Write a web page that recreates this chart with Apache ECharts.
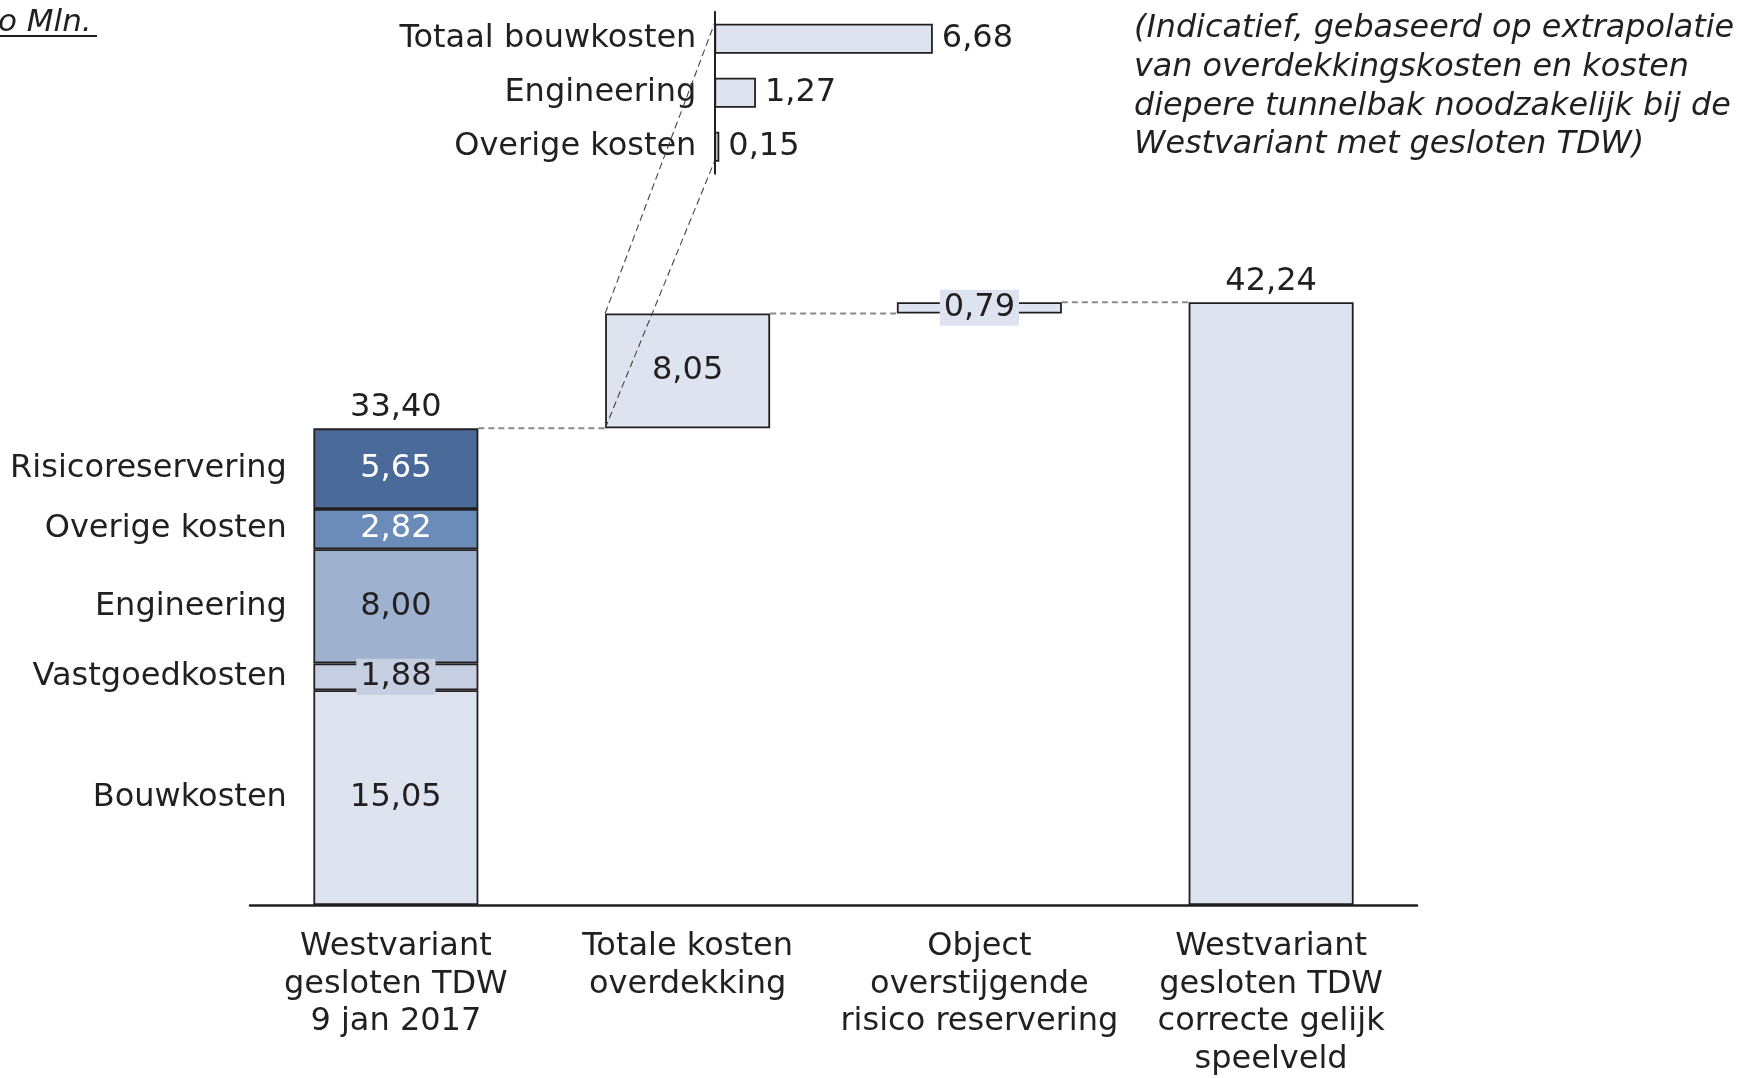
<!DOCTYPE html>
<html>
<head>
<meta charset="utf-8">
<script src="https://cdn.jsdelivr.net/npm/echarts@6/dist/echarts.min.js"></script>
<style>
html,body{margin:0;padding:0;background:#fff;}
#chart{width:1746px;height:1078px;}
</style>
</head>
<body>
<div id="chart"></div>
<script>
// ---- data ----
const categories = [
  'Westvariant\ngesloten TDW\n9 jan 2017',
  'Totale kosten\noverdekking',
  'Object\noverstijgende\nrisico reservering',
  'Westvariant\ngesloten TDW\ncorrecte gelijk\nspeelveld'
];
const segmentNames = ['Bouwkosten', 'Vastgoedkosten', 'Engineering', 'Overige kosten', 'Risicoreservering'];
const segmentValues = [15.05, 1.88, 8.00, 2.82, 5.65];
const segmentColors = ['#dde4ef', '#c5cfe1', '#9eb1ce', '#6b8cb8', '#4a6a9a'];
const segmentLabelColors = ['#231f20', '#231f20', '#231f20', '#ffffff', '#ffffff'];
const startTotal = 33.40;
const deltaValues = [8.05, 0.79];
const endTotal = 42.24;
const insetCategories = ['Totaal bouwkosten', 'Engineering', 'Overige kosten'];
const insetValues = [6.68, 1.27, 0.15];
const noteLines = [
  '(Indicatief, gebaseerd op extrapolatie',
  'van overdekkingskosten en kosten',
  'diepere tunnelbak noodzakelijk bij de',
  'Westvariant met gesloten TDW)'
];
const unitLabel = 'o Mln.';

// ---- helpers ----
const FONT = 'DejaVu Sans';
const FS = 32;
const TXT = '#231f20';
const fmt = v => Number(v).toFixed(2).replace('.', ',');
const BW = 165;
const BORDER = 1.8;

const base = [0, startTotal, startTotal + deltaValues[0], 0];
const deltaSeriesData = ['-', deltaValues[0], deltaValues[1], '-'];
const totalSeriesData = ['-', '-', '-', endTotal];

let cum = 0;
const nameMid = segmentValues.map(v => { const m = cum + v / 2; cum += v; return m; });

const series = [];
series.push({
  type: 'bar', stack: 'w', barWidth: BW, data: base,
  itemStyle: { color: 'transparent', borderWidth: 0 }, silent: true
});
segmentValues.forEach((v, i) => {
  const lbl = { show: true, position: 'inside', fontSize: FS, fontFamily: FONT, color: segmentLabelColors[i], formatter: p => fmt(p.value) };
  if (i === 1) { lbl.backgroundColor = segmentColors[1]; lbl.padding = [3, 4, 1, 4]; }
  series.push({
    type: 'bar', stack: 'w', barWidth: BW, name: segmentNames[i],
    data: [v, '-', '-', '-'],
    itemStyle: { color: segmentColors[i], borderColor: '#231f20', borderWidth: BORDER },
    label: lbl
  });
});
series.push({
  type: 'bar', stack: 'w', barWidth: BW,
  data: deltaSeriesData,
  itemStyle: { color: '#dde4ef', borderColor: '#231f20', borderWidth: BORDER },
  label: { show: true, position: 'inside', fontSize: FS, fontFamily: FONT, color: TXT,
    backgroundColor: '#dde4ef', padding: [3, 4, 1, 4], formatter: p => fmt(p.value) }
});
series.push({
  type: 'bar', stack: 'w', barWidth: BW,
  data: totalSeriesData,
  itemStyle: { color: '#dde4ef', borderColor: '#231f20', borderWidth: BORDER }
});
// totals above bars
series.push({
  type: 'scatter', symbolSize: 0, silent: true,
  itemStyle: { opacity: 1 },
  data: [[0, startTotal], [3, endTotal]],
  label: { show: true, position: 'top', distance: 5, fontSize: FS, fontFamily: FONT, color: TXT, opacity: 1, formatter: p => fmt(p.value[1]) }
});
// segment names to the left of the first bar
series.push({
  type: 'scatter', symbolSize: 0, silent: true,
  itemStyle: { opacity: 1 },
  data: nameMid.map((m, i) => ({ value: [0, m], name: segmentNames[i] })),
  label: { show: true, position: 'left', distance: 109, fontSize: FS, fontFamily: FONT, color: TXT, opacity: 1, formatter: p => p.name }
});
// inset bars
series.push({
  type: 'bar', xAxisIndex: 1, yAxisIndex: 1, barWidth: 30,
  data: insetValues,
  itemStyle: { color: '#dde4ef', borderColor: '#231f20', borderWidth: BORDER },
  label: { show: true, position: 'right', distance: 9, fontSize: FS, fontFamily: FONT, color: TXT, padding: [6, 0, 0, 0], formatter: p => fmt(p.value) }
});

const option = {
  animation: false,
  backgroundColor: '#ffffff',
  textStyle: { fontFamily: FONT },
  grid: [
    { left: 250, right: 329, top: 262.8, bottom: 169, containLabel: false },
    { left: 714.4, top: 11.7, height: 162, width: 327, containLabel: false }
  ],
  xAxis: [
    {
      type: 'category', gridIndex: 0, data: categories,
      axisLine: { lineStyle: { color: '#231f20', width: 2.5 } },
      axisTick: { show: false },
      axisLabel: { fontSize: FS, fontFamily: FONT, color: TXT, lineHeight: 37.5, margin: 23, interval: 0 }
    },
    { type: 'value', gridIndex: 1, min: 0, max: 10, show: false }
  ],
  yAxis: [
    { type: 'value', gridIndex: 0, min: 0, max: 45, show: false },
    {
      type: 'category', gridIndex: 1, data: insetCategories, inverse: true,
      axisLine: { show: true, lineStyle: { color: '#231f20', width: 2 } },
      axisTick: { show: false },
      axisLabel: { fontSize: FS, fontFamily: FONT, color: TXT, margin: 18, padding: [12, 0, 0, 0] }
    }
  ],
  series: series
};

const chart = echarts.init(document.getElementById('chart'), null, { renderer: 'canvas' });
chart.setOption(option);

// ---- decorative graphics computed from the library's scales ----
const px = i => chart.convertToPixel({ xAxisIndex: 0 }, i);
const py = v => chart.convertToPixel({ yAxisIndex: 0 }, v);
const half = BW / 2;
const lvl1 = startTotal, lvl2 = startTotal + deltaValues[0];
const connStyle = { stroke: '#8a8a8a', lineWidth: 2, lineDash: [6, 4] };
const zoomStyle = { stroke: '#444', lineWidth: 1.1, lineDash: [7, 4] };
const insetTop = chart.convertToPixel({ gridIndex: 1 }, [0, insetCategories[0]]);
const insetBot = chart.convertToPixel({ gridIndex: 1 }, [0, insetCategories[2]]);

const graphics = [
  { type: 'line', silent: true, shape: { x1: px(0) + half, y1: py(lvl1), x2: px(1) - half, y2: py(lvl1) }, style: connStyle },
  { type: 'line', silent: true, shape: { x1: px(1) + half, y1: py(lvl2), x2: px(2) - half, y2: py(lvl2) }, style: connStyle },
  { type: 'line', silent: true, shape: { x1: px(2) + half, y1: py(endTotal), x2: px(3) - half, y2: py(endTotal) }, style: connStyle },
  { type: 'line', silent: true, z: 10, shape: { x1: px(1) - half, y1: py(lvl2), x2: insetTop[0], y2: insetTop[1] - 15 }, style: zoomStyle },
  { type: 'line', silent: true, z: 10, shape: { x1: px(1) - half, y1: py(lvl1), x2: insetBot[0], y2: insetBot[1] + 15 }, style: zoomStyle },
  { type: 'text', silent: true, left: -2, top: 7, style: { text: unitLabel, font: 'italic 31px "DejaVu Sans"', fill: TXT } },
  { type: 'rect', silent: true, shape: { x: 0, y: 35, width: 97, height: 2 }, style: { fill: TXT } }
];
noteLines.forEach((t, i) => {
  graphics.push({ type: 'text', silent: true, left: 1134, top: 13 + i * 38.7,
    style: { text: t, font: 'italic 31.8px "DejaVu Sans"', fill: TXT } });
});
chart.setOption({ graphic: graphics });
</script>
</body>
</html>
